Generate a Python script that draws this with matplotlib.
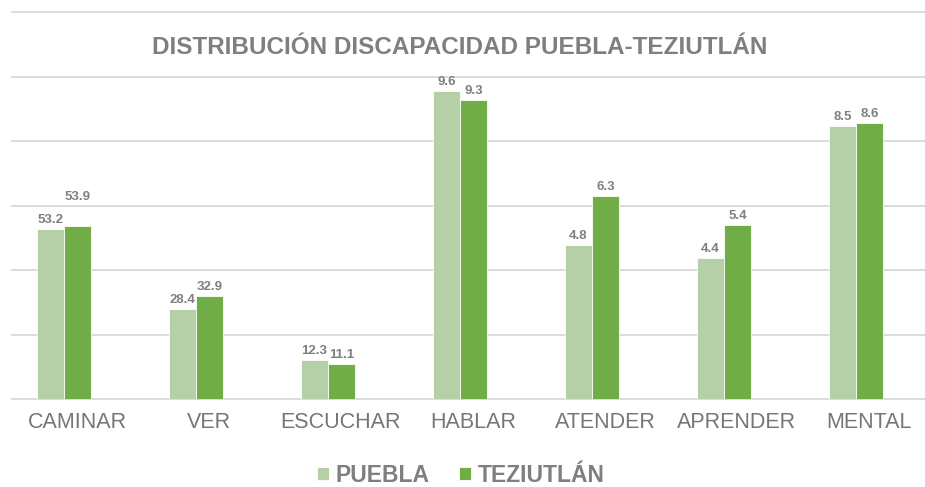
import numpy as np
import matplotlib.pyplot as plt
import matplotlib.transforms as mtransforms

# datos
categorias = ["CAMINAR", "VER", "ESCUCHAR", "HABLAR", "ATENDER", "APRENDER", "MENTAL"]
series = ["PUEBLA", "TEZIUTLÁN"]
# altura de las barras (escala del eje, rejilla cada 2)
altura_puebla = [5.26, 2.78, 1.22, 9.56, 4.76, 4.38, 8.46]
altura_teziutlan = [5.36, 3.18, 1.10, 9.26, 6.28, 5.38, 8.56]
# etiquetas que muestra el grafico
etiqueta_puebla = ["53.2", "28.4", "12.3", "9.6", "4.8", "4.4", "8.5"]
etiqueta_teziutlan = ["53.9", "32.9", "11.1", "9.3", "6.3", "5.4", "8.6"]

plt.rcParams['font.family'] = ['Liberation Sans', 'DejaVu Sans']

color_claro = '#b5cfa7'
color_verde = '#70ad47'
gris = '#7f7f7f'
gris_rejilla = '#d9d9d9'

fig = plt.figure(figsize=(9.25, 4.87), dpi=100)
ax = fig.add_axes([12 / 925, 1 - 399 / 487, 913 / 925, 387 / 487])

x = np.arange(len(categorias))
ancho = 27 / 132

b1 = ax.bar(x - ancho / 2, altura_puebla, ancho, color=color_claro,
            edgecolor='white', linewidth=0.6, label=series[0], zorder=3)
b2 = ax.bar(x + ancho / 2, altura_teziutlan, ancho, color=color_verde,
            edgecolor='white', linewidth=0.6, label=series[1], zorder=3)

# etiquetas de datos (53.9 va algo mas arriba en el original)
empuje = {(0, 1): 20}
for j, (barras, textos) in enumerate([(b1, etiqueta_puebla), (b2, etiqueta_teziutlan)]):
    for i, (barra, t) in enumerate(zip(barras, textos)):
        dy = 3 + empuje.get((i, j), 0)
        ax.annotate(t, (barra.get_x() + barra.get_width() / 2, barra.get_height()),
                    xytext=(0, dy), textcoords='offset pixels', ha='center', va='bottom',
                    fontsize=9.5, fontweight='bold', color=gris, zorder=4)

ax.set_xlim(-0.394, 6.523)
ax.set_ylim(0, 12)
ax.set_yticks(np.arange(0, 13, 2))
ax.yaxis.grid(True, color=gris_rejilla, linewidth=1.3, zorder=0)
ax.set_axisbelow(True)
ax.tick_params(axis='y', left=False, labelleft=False)
ax.tick_params(axis='x', bottom=False, pad=6)
ax.set_xticks(x)
ax.set_xticklabels(categorias, fontsize=15.5, color='#767676')
# en el original los nombres quedan algo a la derecha de las barras
desplaza = mtransforms.ScaledTranslation(13 / 100, 0, fig.dpi_scale_trans)
for lbl in ax.get_xticklabels():
    lbl.set_transform(lbl.get_transform() + desplaza)
for s in ax.spines.values():
    s.set_visible(False)
for g in ax.get_ygridlines():
    g.set_clip_on(False)

fig.text(460 / 925, 1 - 47 / 487, "DISTRIBUCIÓN DISCAPACIDAD PUEBLA-TEZIUTLÁN",
         ha='center', va='center', fontsize=17.5, fontweight='bold', color=gris)

leg = fig.legend(handles=[b1, b2], labels=series, loc='center',
                 bbox_to_anchor=(461 / 925, 1 - 475 / 487), ncol=2, frameon=False,
                 handlelength=0.5, handleheight=0.5, handletextpad=0.3,
                 columnspacing=1.3, prop={'size': 16.5, 'weight': 'bold'})
for txt in leg.get_texts():
    txt.set_color(gris)

fig.savefig('out.png', dpi=100)
